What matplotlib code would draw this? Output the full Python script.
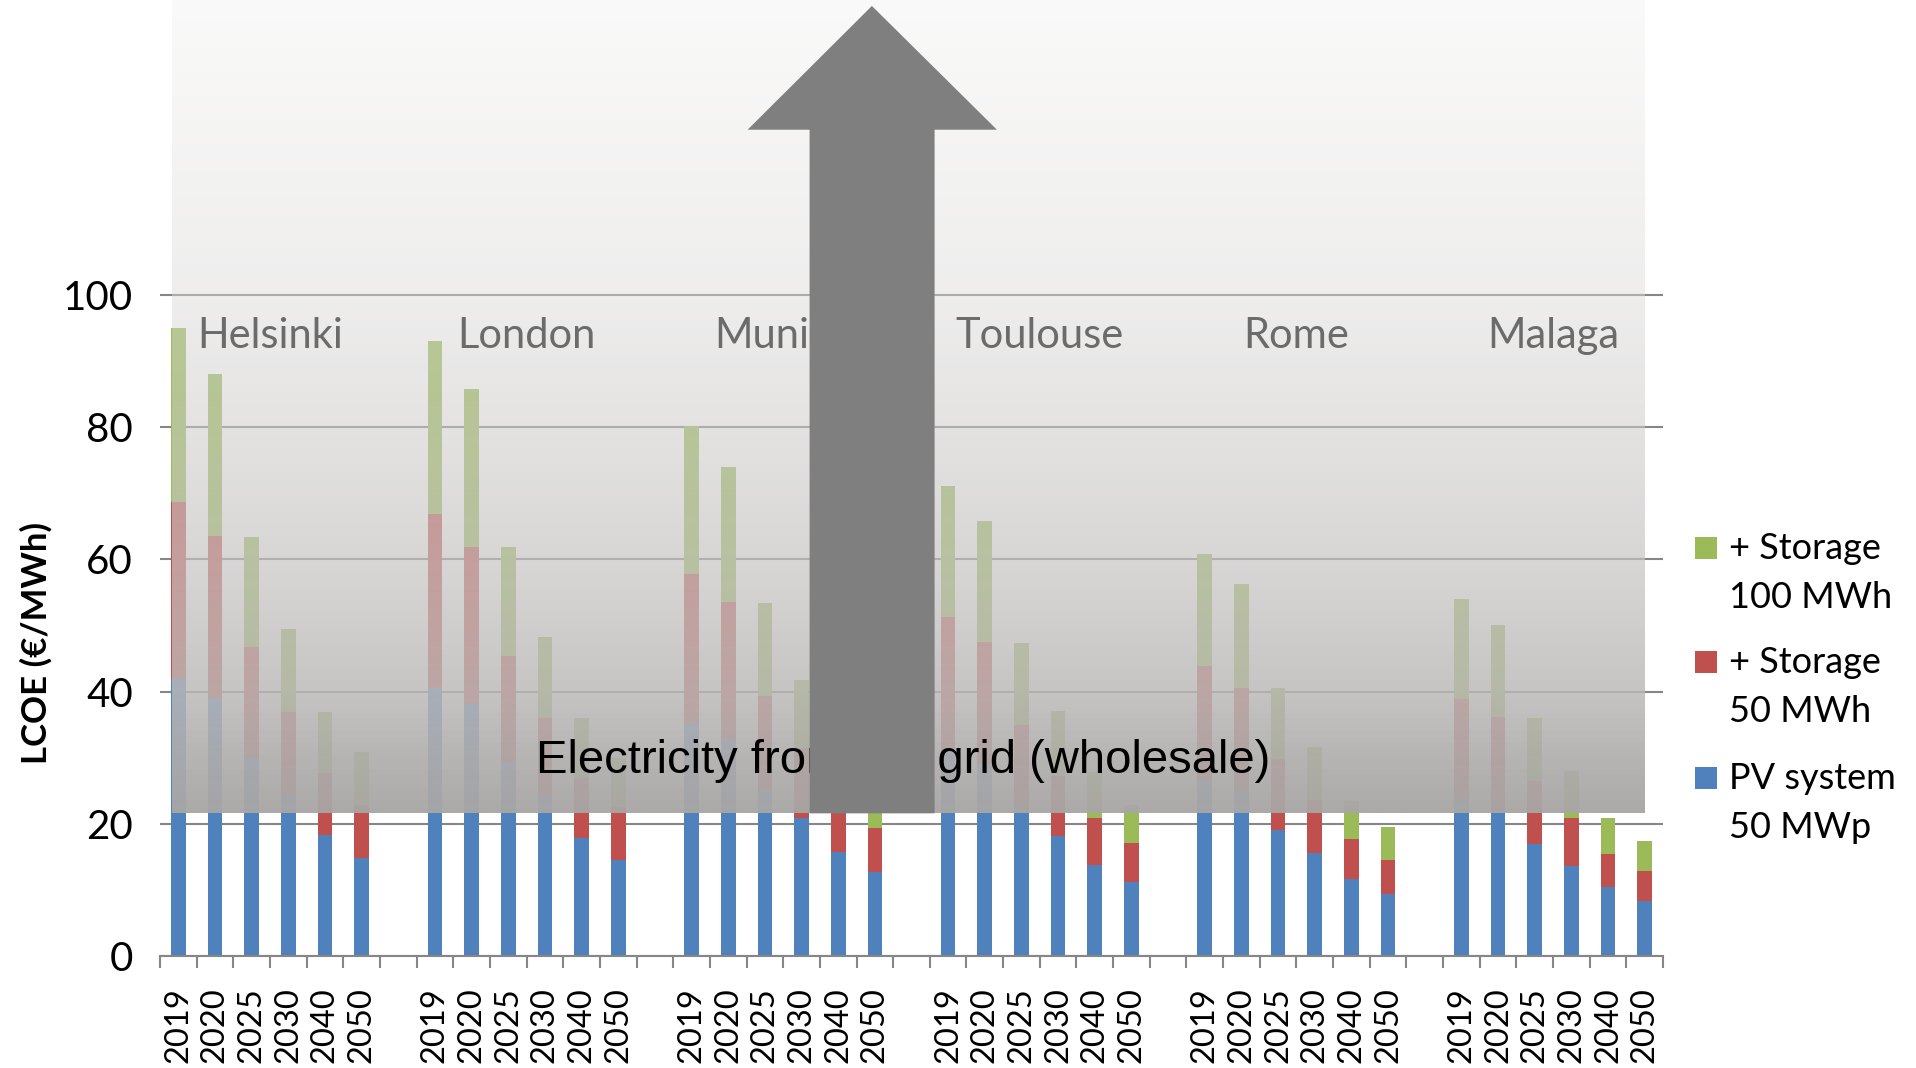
import numpy as np
import matplotlib
matplotlib.use('Agg')
import matplotlib.pyplot as plt
from matplotlib.patches import Polygon, Rectangle

plt.rcParams['font.family'] = ['Lato', 'DejaVu Sans']

# LCOE (EUR/MWh) per city and year: PV alone, PV + 50 MWh storage, PV + 100 MWh storage
cities = ['Helsinki', 'London', 'Munich', 'Toulouse', 'Rome', 'Malaga']
years = ['2019', '2020', '2025', '2030', '2040', '2050']

pv_only = [
    [41.9, 39.1, 29.9, 24.4, 18.4, 14.8],
    [40.6, 38.1, 29.3, 24.0, 17.8, 14.6],
    [35.2, 32.9, 25.1, 20.9, 15.7, 12.8],
    [31.1, 29.1, 22.2, 18.2, 13.8, 11.3],
    [26.7, 25.0, 19.1, 15.6, 11.7, 9.4],
    [23.7, 22.1, 16.9, 13.6, 10.4, 8.3],
]
pv_storage50 = [
    [68.6, 63.5, 46.8, 36.9, 27.7, 22.8],
    [66.8, 61.9, 45.4, 36.0, 26.9, 22.5],
    [57.7, 53.5, 39.4, 31.4, 23.7, 19.4],
    [51.3, 47.5, 35.0, 27.3, 20.9, 17.1],
    [43.9, 40.6, 29.8, 23.6, 17.7, 14.6],
    [38.9, 36.1, 26.5, 20.9, 15.5, 12.9],
]
pv_storage100 = [
    [95.0, 88.0, 63.3, 49.4, 36.9, 30.8],
    [92.9, 85.7, 61.9, 48.3, 36.0, 30.0],
    [80.1, 74.0, 53.4, 41.8, 31.7, 26.0],
    [71.0, 65.7, 47.4, 37.1, 27.9, 22.9],
    [60.8, 56.2, 40.5, 31.7, 23.5, 19.6],
    [54.0, 50.0, 36.0, 28.0, 20.9, 17.4],
]

grid_price = 21.6  # wholesale electricity level (lower edge of the shaded band)

legend_labels = ['+ Storage\n100 MWh', '+ Storage\n50 MWh', 'PV system\n50 MWp']
c_pv, c_s50, c_s100 = '#4f81bd', '#c0504d', '#9bbb59'
grey = '#868686'

W, H = 1916, 1068
fig = plt.figure(figsize=(W / 100, H / 100), dpi=100)
ax = fig.add_axes([160 / W, 111.7 / H, 1503 / W, 956.3 / H])

# 6 bars per city, one empty slot between cities
n_y = len(years)
xpos = np.concatenate([g * (n_y + 1) + np.arange(n_y) for g in range(len(cities))])
pv = np.array(pv_only).ravel()
s50 = np.array(pv_storage50).ravel()
s100 = np.array(pv_storage100).ravel()

ax.bar(xpos, pv, width=0.4, color=c_pv, zorder=2)
ax.bar(xpos, s50 - pv, width=0.4, bottom=pv, color=c_s50, zorder=2)
ax.bar(xpos, s100 - s50, width=0.4, bottom=s50, color=c_s100, zorder=2)

# shaded band above the wholesale price: grey gradient, more transparent towards the top
top = 144.5
v = np.linspace(grid_price, top, 400)
v_stop = [21.6, 30, 40, 55, 70, 85, 100, 144.5]
bg_stop = [170, 181, 197, 211, 221, 230, 238, 250]
a_stop = [0.96, 0.91, 0.83, 0.72, 0.62, 0.52, 0.46, 0.35]
bg = np.interp(v, v_stop, bg_stop)
alpha = np.interp(v, v_stop, a_stop)
lev = (bg - (1 - alpha) * 255) / alpha
rgba = np.zeros((len(v), 1, 4))
rgba[:, 0, 0] = np.clip(lev + 2, 0, 255) / 255
rgba[:, 0, 1] = lev / 255
rgba[:, 0, 2] = np.clip(lev - 1, 0, 255) / 255
rgba[:, 0, 3] = alpha
ax.imshow(rgba, origin='lower', aspect='auto', interpolation='bilinear',
          extent=(-0.17, 40.0, grid_price, top), zorder=3)

ax.text(9.755, 27.66, 'Electricity from the grid (wholesale)', fontsize=34,
        family=['Liberation Sans', 'DejaVu Sans'], ha='left', va='baseline',
        color='black', zorder=4)

for g, city in enumerate(cities):
    ax.text(g * (n_y + 1) + (n_y - 1) / 2, 91.9, city, fontsize=30, color='#6b6b6b',
            ha='center', va='baseline', zorder=4)

# upward arrow
arrow = Polygon([(17.22, grid_price), (17.22, 124.9), (15.53, 124.9), (18.92, 143.6),
                 (22.33, 124.9), (20.63, 124.9), (20.63, grid_price)],
                closed=True, facecolor='#7f7f7f', edgecolor='none', zorder=5)
ax.add_patch(arrow)

ax.set_xlim(-0.5, xpos[-1] + 0.5)
ax.set_ylim(0, top)
ax.set_yticks(np.arange(0, 101, 20))
ax.yaxis.grid(True, color=grey, lw=1.5)
ax.set_axisbelow(True)

ax.set_xticks(xpos)
ax.set_xticklabels(years * len(cities), rotation=90)
ax.set_xticks(np.arange(-0.5, xpos[-1] + 1, 1), minor=True)
ax.tick_params(axis='x', which='major', length=0, pad=22, labelsize=23.5)
ax.tick_params(axis='x', which='minor', length=8.6, width=1.5, color=grey, direction='out')
ax.tick_params(axis='y', length=0, pad=19.4, labelsize=29)

for s in ['top', 'right', 'left']:
    ax.spines[s].set_visible(False)
ax.spines['bottom'].set_color(grey)
ax.spines['bottom'].set_linewidth(1.5)
ax.patch.set_alpha(0)

fig.text(36 / W, 1 - 643 / H, 'LCOE (€/MWh)', rotation=90, ha='center', va='center',
         fontsize=25, fontweight='bold')

# legend
for (sq_top, col), label in zip([(537, c_s100), (651, c_s50), (767, c_pv)], legend_labels):
    fig.add_artist(Rectangle((1695 / W, 1 - (sq_top + 22) / H), 22 / W, 22 / H,
                             transform=fig.transFigure, facecolor=col, edgecolor='none'))
    line1, line2 = label.split('\n')
    base = sq_top + 22
    fig.text(1729 / W, 1 - base / H, line1, fontsize=26, ha='left', va='baseline')
    fig.text(1729 / W, 1 - (base + 49) / H, line2, fontsize=26, ha='left', va='baseline')

fig.savefig('out.png', dpi=100)
